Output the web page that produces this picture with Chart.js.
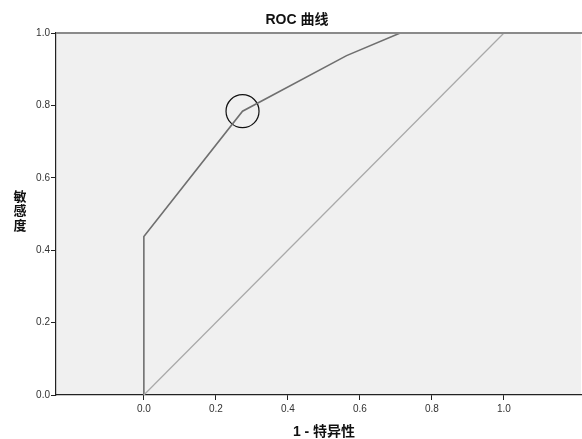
<!DOCTYPE html>
<html>
<head>
<meta charset="utf-8">
<script src="https://cdn.jsdelivr.net/npm/chart.js@4/dist/chart.umd.min.js"></script>
<style>
  html, body { margin: 0; padding: 0; background: #ffffff; }
  #wrap { width: 582px; height: 439px; }
</style>
</head>
<body>
<div id="wrap"><canvas id="c" width="582" height="439"></canvas></div>
<script>
// ---- data ----
const chartTitle = "ROC 曲线";
const xTitle = "1 - 特异性";
const yTitle = "敏感度";
const rocX = [0, 0, 0.274, 0.563, 0.712, 1.0];
const rocY = [0, 0.4375, 0.784, 0.9375, 1.0, 1.0];
const refX = [0, 1];
const refY = [0, 1];
const markX = [0.274];
const markY = [0.784];
const xTicks = [0, 0.2, 0.4, 0.6, 0.8, 1.0];
const yTicks = [0, 0.2, 0.4, 0.6, 0.8, 1.0];

const toPts = (xs, ys) => xs.map((x, i) => ({ x: x, y: ys[i] }));
const latin = '"Liberation Sans", Arial, sans-serif';
const cjk = '"Liberation Sans", "Noto Sans CJK SC", sans-serif';

const decor = {
  id: 'decor',
  beforeDraw(chart) {
    const { ctx, chartArea: a } = chart;
    ctx.save();
    ctx.fillStyle = '#f0f0f0';
    ctx.fillRect(a.left, a.top, a.right - a.left, a.bottom - a.top);
    ctx.restore();
  },
  afterDraw(chart) {
    const { ctx, chartArea: a } = chart;
    ctx.save();
    ctx.setTransform(1, 0, 0, 1, 0, 0);
    // top frame line
    ctx.strokeStyle = '#8a8a8a';
    ctx.lineWidth = 2;
    ctx.beginPath();
    ctx.moveTo(a.left, a.top);
    ctx.lineTo(chart.width, a.top);
    ctx.stroke();
    // titles
    ctx.fillStyle = '#111';
    ctx.textAlign = 'center';
    ctx.textBaseline = 'middle';
    ctx.font = 'bold 14px ' + cjk;
    ctx.fillText(chartTitle, 297, 20);
    ctx.fillText(xTitle, 324, 432);
    ctx.font = 'bold 13px "Noto Sans CJK SC", sans-serif';
    const chars = Array.from(yTitle);
    const cy = (a.top + a.bottom) / 2 - 3.5;
    const lh = 14.5;
    chars.forEach((ch, i) => {
      ctx.fillText(ch, 20, cy + (i - (chars.length - 1) / 2) * lh);
    });
    ctx.restore();
  }
};

new Chart(document.getElementById('c'), {
  type: 'scatter',
  data: {
    datasets: [
      {
        data: toPts(refX, refY),
        showLine: true,
        borderColor: '#a9a9a9',
        borderWidth: 1.3,
        pointRadius: 0,
        tension: 0
      },
      {
        data: toPts(rocX, rocY),
        showLine: true,
        borderColor: '#6f6f6f',
        borderWidth: 1.6,
        pointRadius: 0,
        tension: 0
      },
      {
        data: toPts(markX, markY),
        showLine: false,
        pointRadius: 16.5,
        pointBorderColor: '#111',
        pointBorderWidth: 1.2,
        pointBackgroundColor: 'rgba(0,0,0,0)'
      }
    ]
  },
  options: {
    responsive: false,
    animation: false,
    layout: { autoPadding: false, padding: { left: 0, right: 1, top: 33, bottom: 0 } },
    plugins: { legend: { display: false }, tooltip: { enabled: false }, title: { display: false } },
    scales: {
      x: {
        type: 'linear',
        min: -0.244,
        max: 1.214,
        afterBuildTicks: (s) => { s.ticks = xTicks.map(v => ({ value: v })); },
        afterFit: (s) => { s.height = 44; s.paddingLeft = 0; s.paddingRight = 0; },
        border: { display: true, color: '#222', width: 1.2 },
        grid: { drawOnChartArea: false, drawTicks: true, tickLength: 5, color: '#222', lineWidth: 1 },
        ticks: {
          color: '#333',
          font: { family: latin, size: 10 },
          padding: 3,
          maxRotation: 0,
          callback: (v) => Number(v).toFixed(1)
        }
      },
      y: {
        type: 'linear',
        min: 0,
        max: 1,
        afterBuildTicks: (s) => { s.ticks = yTicks.map(v => ({ value: v })); },
        afterFit: (s) => { s.width = 56; s.paddingTop = 0; s.paddingBottom = 0; },
        border: { display: true, color: '#222', width: 1.2 },
        grid: { drawOnChartArea: false, drawTicks: true, tickLength: 5, color: '#222', lineWidth: 1 },
        ticks: {
          color: '#333',
          font: { family: latin, size: 10 },
          padding: 1,
          callback: (v) => Number(v).toFixed(1)
        }
      }
    }
  },
  plugins: [decor]
});
</script>
</body>
</html>
